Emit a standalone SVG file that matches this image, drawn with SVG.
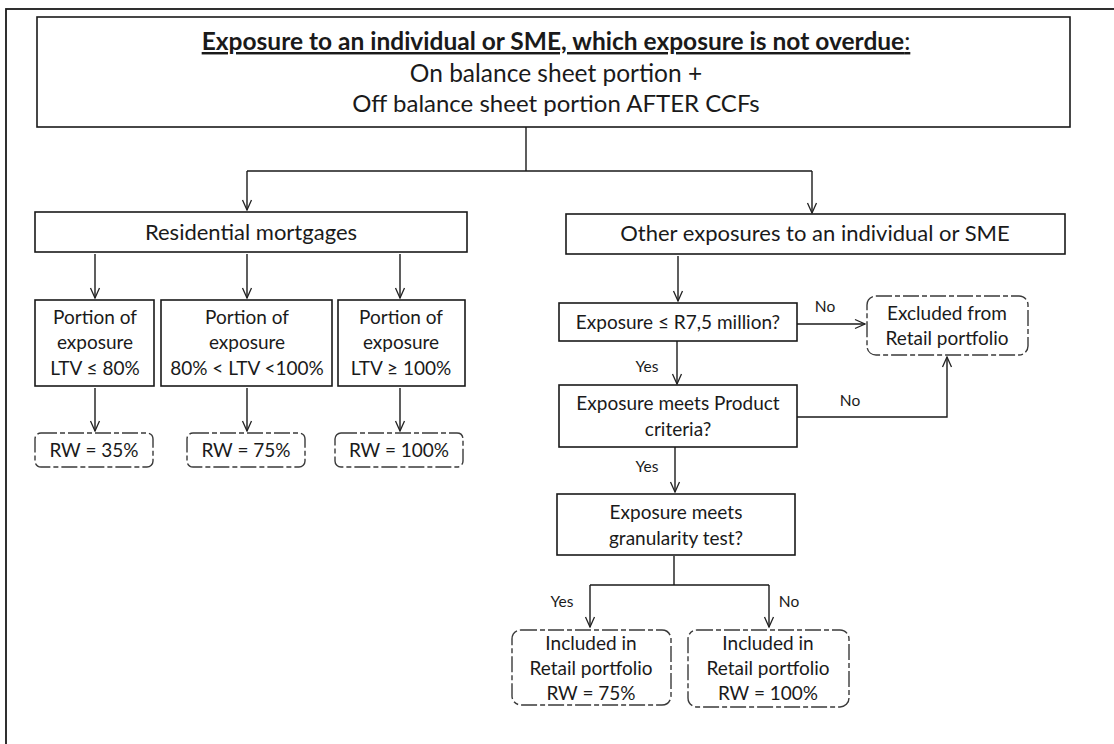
<svg xmlns="http://www.w3.org/2000/svg" width="1114" height="744" viewBox="0 0 1114 744">
<defs>
<marker id="arr" viewBox="0 0 12 12" refX="11" refY="6" markerWidth="12" markerHeight="12" markerUnits="userSpaceOnUse" orient="auto">
<polyline points="1,1.5 11,6 1,10.5" fill="none" stroke="#222" stroke-width="1.3"/>
</marker>
</defs>
<style>
.box{fill:#fff;stroke:#1a1a1a;stroke-width:1.6}
.rbox{fill:#fff;stroke:#3a3a3a;stroke-width:1.4;stroke-dasharray:16 3 5 3}
.ln{fill:none;stroke:#1a1a1a;stroke-width:1.4}
.t{font-family:Lato,"Liberation Sans",sans-serif;fill:#1a1a1a;text-anchor:middle}
.s22{font-size:22px}
.s19{font-size:19px}
.s15{font-size:15.5px}
</style>
<rect x="6" y="9" width="1130" height="760" fill="none" stroke="#1a1a1a" stroke-width="1.8"/>
<g id="connectors">
<path class="ln" d="M526 127 V171 M247 171 H812"/>
<path class="ln" d="M247 171 V210" marker-end="url(#arr)"/>
<path class="ln" d="M812 171 V213" marker-end="url(#arr)"/>
<path class="ln" d="M95 254 V298" marker-end="url(#arr)"/>
<path class="ln" d="M247 254 V298" marker-end="url(#arr)"/>
<path class="ln" d="M400 254 V298" marker-end="url(#arr)"/>
<path class="ln" d="M95 388 V431" marker-end="url(#arr)"/>
<path class="ln" d="M247 388 V431" marker-end="url(#arr)"/>
<path class="ln" d="M400 388 V431" marker-end="url(#arr)"/>
<path class="ln" d="M678 256 V301" marker-end="url(#arr)"/>
<path class="ln" d="M797 324 H865" marker-end="url(#arr)"/>
<path class="ln" d="M677 341 V384" marker-end="url(#arr)"/>
<path class="ln" d="M797 417 H947 V357" marker-end="url(#arr)"/>
<path class="ln" d="M675 447 V492" marker-end="url(#arr)"/>
<path class="ln" d="M674 556 V585 M590 585 H769"/>
<path class="ln" d="M590 585 V627" marker-end="url(#arr)"/>
<path class="ln" d="M769 585 V627" marker-end="url(#arr)"/>
<text class="t s15" x="825" y="312">No</text>
<text class="t s15" x="647" y="372">Yes</text>
<text class="t s15" x="850" y="406">No</text>
<text class="t s15" x="647" y="472">Yes</text>
<text class="t s15" x="562" y="607">Yes</text>
<text class="t s15" x="789" y="607">No</text>
</g>
<g id="top">
<rect class="box" x="37" y="17" width="1033" height="110"/>
<text class="t" x="556" y="50" font-size="24.5" font-weight="bold" text-decoration="underline">Exposure to an individual or SME, which exposure is not overdue<tspan font-weight="normal" text-decoration="none">:</tspan></text>
<text class="t" x="556" y="82" font-size="24.5">On balance sheet portion +</text>
<text class="t" x="556" y="112" font-size="24">Off balance sheet portion AFTER CCFs</text>
</g>
<g id="residential">
<rect class="box" x="35" y="212" width="432" height="40"/>
<text class="t s22" x="251" y="240">Residential mortgages</text>
</g>
<g id="other">
<rect class="box" x="566" y="214" width="499" height="40"/>
<text class="t s22" x="815" y="241">Other exposures to an individual or SME</text>
</g>
<g id="ltv80">
<rect class="box" x="35" y="300" width="119" height="86"/>
<text class="t s19" x="95" y="324">Portion of</text>
<text class="t s19" x="95" y="349">exposure</text>
<text class="t s19" x="95" y="375">LTV ≤ 80%</text>
</g>
<g id="ltv80_100">
<rect class="box" x="161" y="300" width="171" height="86"/>
<text class="t s19" x="247" y="324">Portion of</text>
<text class="t s19" x="247" y="349">exposure</text>
<text class="t s19" x="247" y="375">80% &lt; LTV &lt;100%</text>
</g>
<g id="ltv100">
<rect class="box" x="338" y="300" width="127" height="86"/>
<text class="t s19" x="401" y="324">Portion of</text>
<text class="t s19" x="401" y="349">exposure</text>
<text class="t s19" x="401" y="375">LTV ≥ 100%</text>
</g>
<g id="rw35">
<rect class="rbox" x="35" y="433" width="118" height="34" rx="6"/>
<text class="t s19" x="94" y="457">RW = 35%</text>
</g>
<g id="rw75">
<rect class="rbox" x="187" y="433" width="118" height="34" rx="6"/>
<text class="t s19" x="246" y="457">RW = 75%</text>
</g>
<g id="rw100">
<rect class="rbox" x="335" y="433" width="128" height="34" rx="6"/>
<text class="t s19" x="399" y="457">RW = 100%</text>
</g>
<g id="limit">
<rect class="box" x="559" y="303" width="238" height="38"/>
<text class="t s19" x="678" y="329">Exposure ≤ R7,5 million?</text>
</g>
<g id="excluded">
<rect class="rbox" x="867" y="296" width="161" height="59" rx="9"/>
<text class="t s19" x="947" y="320">Excluded from</text>
<text class="t s19" x="947" y="345">Retail portfolio</text>
</g>
<g id="product">
<rect class="box" x="559" y="385" width="238" height="62"/>
<text class="t s19" x="678" y="410">Exposure meets Product</text>
<text class="t s19" x="678" y="436">criteria?</text>
</g>
<g id="granularity">
<rect class="box" x="557" y="494" width="238" height="61"/>
<text class="t s19" x="676" y="519">Exposure meets</text>
<text class="t s19" x="676" y="545">granularity test?</text>
</g>
<g id="incl75">
<rect class="rbox" x="512" y="630" width="159" height="75" rx="9"/>
<text class="t s19" x="591" y="650">Included in</text>
<text class="t s19" x="591" y="675">Retail portfolio</text>
<text class="t s19" x="591" y="700">RW = 75%</text>
</g>
<g id="incl100">
<rect class="rbox" x="688" y="630" width="161" height="77" rx="9"/>
<text class="t s19" x="768" y="650">Included in</text>
<text class="t s19" x="768" y="675">Retail portfolio</text>
<text class="t s19" x="768" y="700">RW = 100%</text>
</g>
</svg>
